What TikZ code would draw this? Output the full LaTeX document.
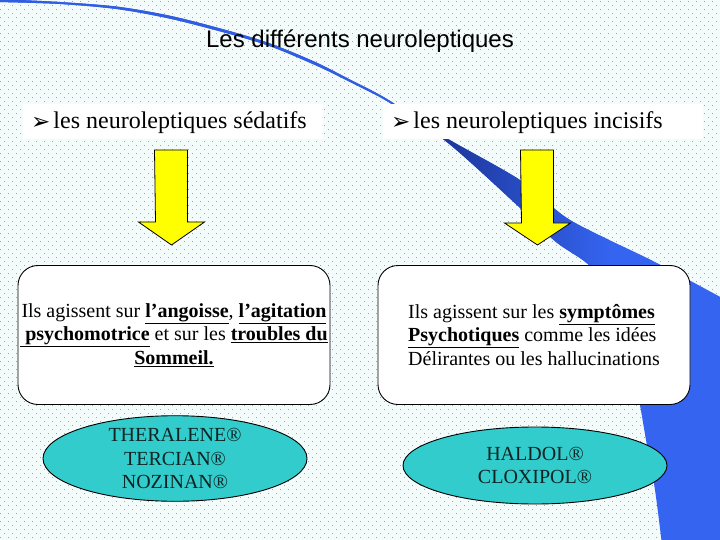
\documentclass[tikz,border=0pt]{standalone}
\usepackage{fontspec}
\setmainfont{Liberation Serif}
\newfontfamily\arialf{Liberation Sans}
\newfontfamily\djv{DejaVu Sans}
\usetikzlibrary{shapes.geometric}
\definecolor{bgcol}{RGB}{243,251,251}
\definecolor{dotcol}{RGB}{150,168,182}
\definecolor{swoosh}{RGB}{52,100,240}
\definecolor{swooshdark}{RGB}{28,52,150}
\definecolor{medcol}{RGB}{51,204,204}
\definecolor{medtext}{RGB}{15,35,35}
\definecolor{arrowyellow}{RGB}{255,255,0}
\def\swooshpath{%
  plot[smooth] coordinates {(-3,-1) (60,2) (120,7) (180,18) (260,40) (313,61) (347,78) (387,99) (443,136) (520,180) (570,220) (653,261) (724,299)}
  -- (724,545) --
  plot[smooth] coordinates {(662,545) (655,490) (646,440) (639,400) (622,315) (592,268) (556,242) (518,206) (448,143) (390,103) (350,82) (315,65) (262,43.5) (180,21) (120,9.5) (60,4) (-3,2)}
  -- cycle}
\begin{document}
\begin{tikzpicture}[x=1pt,y=-1pt,
  lblbox/.style={fill=white, draw=none, minimum width=#1, minimum height=35pt, inner sep=0pt},
  lbltext/.style={anchor=base west, inner sep=0pt, font=\fontsize{24}{28}\selectfont},
  infobox/.style={draw=black, line width=0.9pt, fill=white, rounded corners=20pt,
    minimum width=312pt, minimum height=139pt, inner sep=0pt,
    font=\fontsize{20}{23.5}\selectfont},
  medell/.style={ellipse, draw=black, line width=0.9pt, fill=medcol, text=medtext,
    minimum width=264pt, minimum height=77pt, inner sep=0pt, align=center,
    font=\fontsize{20}{23.5}\selectfont},
  yarrow/.style={fill=arrowyellow, draw=black, line width=0.8pt, line join=miter},
  dotline/.style={draw=dotcol, line width=1pt, dash pattern=on 1pt off 7pt}
]
\useasboundingbox (0,0) rectangle (720,540);
% background
\fill[bgcol] (0,0) rectangle (720,540);
\foreach \r [evaluate=\r as \ph using {mod(\r,2)*4}] in {0,...,135}
  \draw[dotline, dash phase=\ph pt] (0,\r*4+1.5) -- (720,\r*4+1.5);
% swoosh
\begin{scope}
  \clip (0,0) rectangle (720,540);
  \fill[swoosh] \swooshpath;
  \begin{scope}
    \clip \swooshpath;
    \shade[left color=swooshdark, right color=swoosh] (435,120) rectangle (610,270);
    \fill[swoosh!85!swooshdark] (-5,-5) rectangle (395,110);
  \end{scope}
\end{scope}
% title
\node[anchor=base, inner sep=0pt, font=\arialf\fontsize{24}{28}\selectfont] (title) at (360,48) {Les différents neuroleptiques};
% labels
\node[lblbox=300pt] (lblA) at (173,121.5) {};
\node[lbltext] (lblAt) at (31,129) {{\djv\fontsize{23}{24}\selectfont\raisebox{-0.5pt}{➢}}\hspace{3pt}les neuroleptiques sédatifs};
\node[lblbox=320pt] (lblB) at (543,121.5) {};
\node[lbltext] (lblBt) at (391,129) {{\djv\fontsize{23}{24}\selectfont\raisebox{-0.5pt}{➢}}\hspace{3pt}les neuroleptiques incisifs};
% yellow arrows
\coordinate (arrA) at (171,150);
\coordinate (arrB) at (537,150);
\draw[yarrow] (arrA) ++(-16.5,0) -- ++(33,0) -- ++(0,72) -- ++(17,0) -- ++(-33,23) -- ++(-33,-23) -- ++(17,0) -- cycle;
\draw[yarrow] (arrB) ++(-16.5,0) -- ++(33,0) -- ++(0,73) -- ++(17,0) -- ++(-33,22) -- ++(-33,-22) -- ++(17,0) -- cycle;
% info boxes
\node[infobox, align=center] (boxA) at (174,335) {Ils agissent sur \underline{\textbf{l’angoisse}}, \underline{\textbf{l’agitation}}\\
\underline{\textbf{\ psychomotrice}} et sur les \underline{\textbf{troubles du}}\\
\underline{\textbf{Sommeil.}}};
\node[infobox, align=left] (boxB) at (534,335) {Ils agissent sur les \underline{\textbf{symptômes}}\\
\underline{\textbf{Psychotiques}} comme les idées\\
Délirantes ou les hallucinations};
% medication ellipses
\node[medell] (ellA) at (175,458.5) {THERALENE®\\TERCIAN®\\NOZINAN®};
\node[medell] (ellB) at (535,465.5) {HALDOL®\\CLOXIPOL®};
\end{tikzpicture}
\end{document}
